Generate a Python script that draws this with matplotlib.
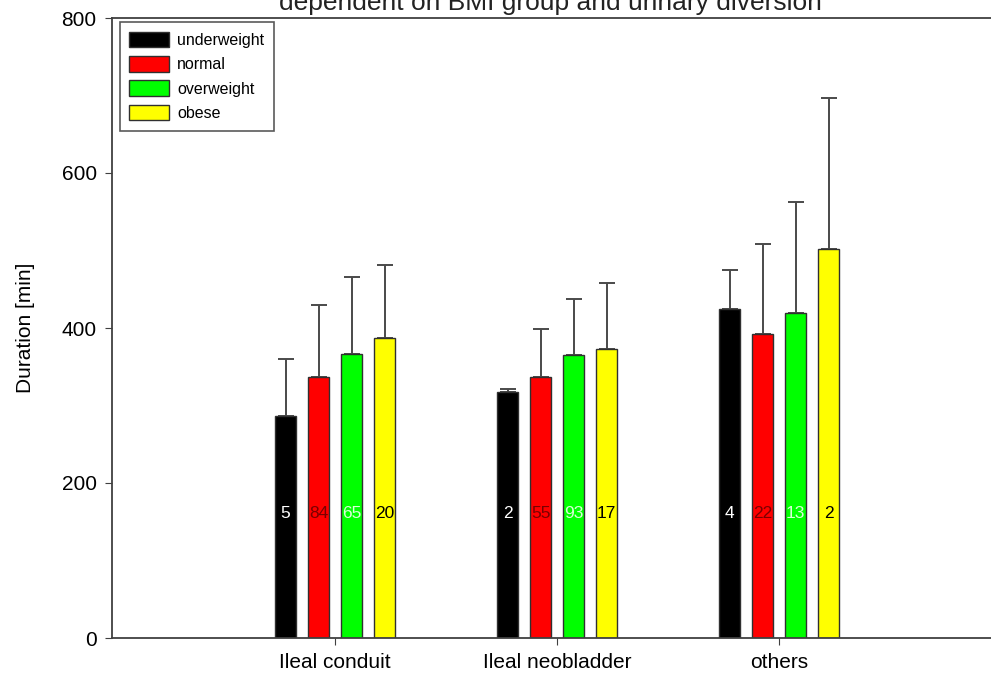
import numpy as np
import matplotlib
matplotlib.use('Agg')
import matplotlib.pyplot as plt

plt.rcParams['font.family'] = ['Liberation Sans', 'DejaVu Sans']

categories = ['Ileal conduit', 'Ileal neobladder', 'others']
groups = ['underweight', 'normal', 'overweight', 'obese']
colors = ['#000000', '#ff0000', '#00ff00', '#ffff00']
label_colors = ['#ffffff', '#7a0000', '#d8ffd8', '#000000']

# mean duration per BMI group, one list per diversion type
means = {
    'underweight': [286, 317, 425],
    'normal': [337, 337, 392],
    'overweight': [367, 365, 419],
    'obese': [387, 373, 502],
}
# upper end of error bar (mean + SD)
upper = {
    'underweight': [360, 321, 475],
    'normal': [430, 399, 508],
    'overweight': [466, 437, 562],
    'obese': [481, 458, 697],
}
counts = {
    'underweight': [5, 2, 4],
    'normal': [84, 55, 22],
    'overweight': [65, 93, 13],
    'obese': [20, 17, 2],
}

fig = plt.figure(figsize=(9.91, 6.84), dpi=100)
ax = fig.add_axes([112 / 991, 46 / 684, (991 - 112) / 991, 620 / 684])

x = np.arange(len(categories))
step = 33 / 222
width = 21 / 222
for i, g in enumerate(groups):
    pos = x + (i - 1.5) * step
    m = np.array(means[g])
    err = np.array(upper[g]) - m
    ax.bar(pos, m, width, color=colors[i], edgecolor='#303030', linewidth=1,
           label=g, zorder=2)
    ax.errorbar(pos, m, yerr=[np.zeros_like(err), err], fmt='none',
                ecolor='#4a4a4a', elinewidth=1.4, capsize=5.5, capthick=1.4,
                zorder=1)
    for p, n in zip(pos, counts[g]):
        ax.text(p, 160, str(n), ha='center', va='center', fontsize=12.5,
                color=label_colors[i], zorder=3)

ax.set_xlim(-1.005, 2.955)
ax.set_ylim(0, 800)
ax.set_yticks([0, 200, 400, 600, 800])
ax.set_xticks(x)
ax.set_xticklabels(categories, fontsize=15)
ax.tick_params(axis='y', labelsize=15, direction='out', length=5, color='#404040', pad=6)
ax.tick_params(axis='x', direction='out', length=5, color='#404040', pad=6)
ax.set_ylabel('Duration [min]', fontsize=15, labelpad=19)
ax.spines['right'].set_visible(False)
for s in ['left', 'bottom', 'top']:
    ax.spines[s].set_color('#404040')
    ax.spines[s].set_linewidth(1.3)

leg = ax.legend(loc='upper left', bbox_to_anchor=(0.009, 0.9935), fontsize=11.5,
                frameon=True, fancybox=False, edgecolor='#303030',
                handlelength=2.5, handleheight=1.15, labelspacing=0.5,
                borderpad=0.6, handletextpad=0.5, borderaxespad=0)
leg.get_frame().set_linewidth(1.2)

fig.text(550 / 991, 1 - 10 / 684, 'dependent on BMI group and urinary diversion',
         ha='center', va='baseline', fontsize=19, color='#222222')

fig.savefig('out.png', dpi=100)
